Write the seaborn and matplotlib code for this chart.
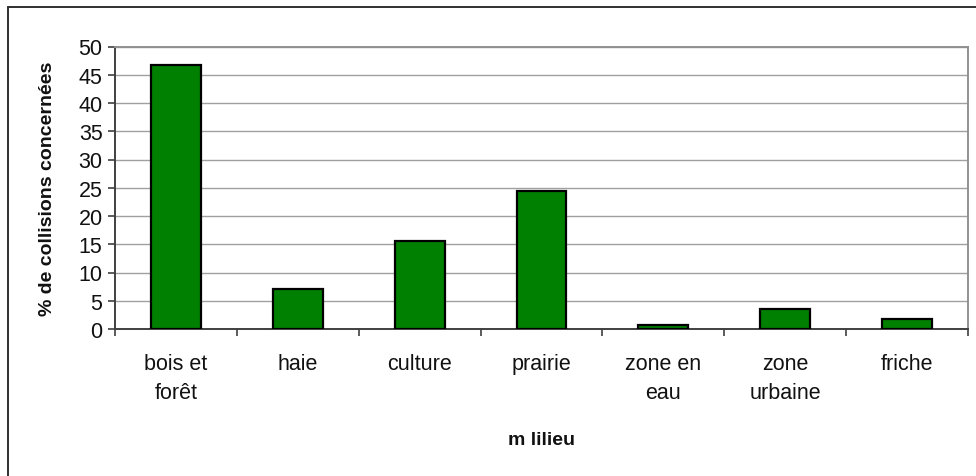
import numpy as np
import pandas as pd
import matplotlib
matplotlib.use("Agg")
import matplotlib.pyplot as plt
from matplotlib.lines import Line2D
import seaborn as sns

# data
milieux = ["bois et\nforêt", "haie", "culture", "prairie",
           "zone en\neau", "zone\nurbaine", "friche"]
pourcentages = [46.8, 7.1, 15.6, 24.4, 0.7, 3.5, 1.8]
y_ticks = [0, 5, 10, 15, 20, 25, 30, 35, 40, 45, 50]

df = pd.DataFrame({"milieu": milieux, "pct": pourcentages})

sns.set_theme(style="white")
plt.rcParams["font.family"] = ["Liberation Sans", "DejaVu Sans"]

W, H = 976, 477
fig = plt.figure(figsize=(W / 100, H / 100), dpi=100)
ax = fig.add_axes([115 / W, 1 - 330 / H, (968 - 115) / W, (330 - 47.5) / H])

sns.barplot(data=df, x="milieu", y="pct", color="#008000", saturation=1,
            edgecolor="black", linewidth=1.6, width=0.41, ax=ax, zorder=3)

ax.set_ylim(0, 50)
ax.set_xlim(-0.5, len(milieux) - 0.5)
ax.set_yticks(y_ticks)
ax.yaxis.grid(True, color="#a0a0a0", linewidth=1.0, zorder=0)
ax.set_axisbelow(True)

# ticks sit between the categories, labels at the centres
ax.set_xticks(np.arange(len(milieux) + 1) - 0.5, minor=True)
ax.tick_params(axis="x", which="major", length=0, pad=17, labelsize=15.5,
               labelcolor="#111111")
ax.tick_params(axis="x", which="minor", length=5, width=1.2, color="#404040",
               direction="out", bottom=True)
ax.tick_params(axis="y", length=5, width=1.2, color="#404040", direction="out",
               left=True, labelsize=15.5, pad=4, labelcolor="#111111")
for lbl in ax.get_xticklabels():
    lbl.set_linespacing(1.55)
    lbl.set_verticalalignment("top")

for side in ["left", "bottom"]:
    ax.spines[side].set_color("#404040")
    ax.spines[side].set_linewidth(1.4)
for side in ["top", "right"]:
    ax.spines[side].set_color("#909090")
    ax.spines[side].set_linewidth(1.4)

ax.set_xlabel("m lilieu", fontsize=14, fontweight="bold", labelpad=20,
              color="#111111")
ax.set_ylabel("% de collisions concernées", fontsize=14, fontweight="bold",
              labelpad=16, color="#111111")

# outer chart frame (only left and top edges visible in the crop)
fig.add_artist(Line2D([8 / W, 8 / W], [0, 1 - 8 / H], color="#303030",
                      linewidth=1.4, transform=fig.transFigure))
fig.add_artist(Line2D([8 / W, 1], [1 - 8 / H, 1 - 8 / H], color="#303030",
                      linewidth=1.4, transform=fig.transFigure))

fig.savefig("out.png", dpi=100)
